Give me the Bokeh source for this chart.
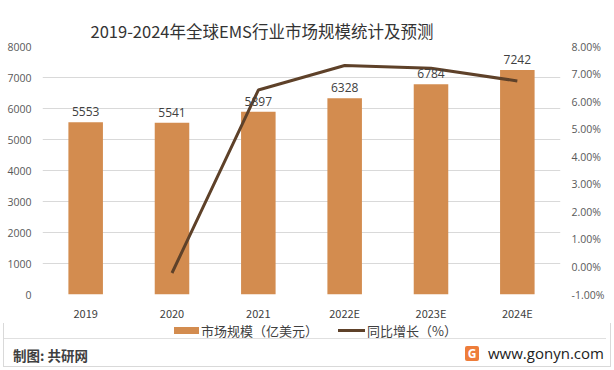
from bokeh.plotting import figure
from bokeh.layouts import column
from bokeh.models import (ColumnDataSource, Range1d, LinearAxis, FixedTicker, NumeralTickFormatter,
                          LabelSet, FactorRange, Div)
from bokeh.core.properties import value
from bokeh.embed import file_html
from bokeh.resources import INLINE

categories = ["2019", "2020", "2021", "2022E", "2023E", "2024E"]
market_size = [5553, 5541, 5897, 6328, 6784, 7242]
growth_pct = [float("nan"), -0.0022, 0.0642, 0.0731, 0.0721, 0.0675]
left_ticks = [0, 1000, 2000, 3000, 4000, 5000, 6000, 7000, 8000]
right_ticks = [-0.01, 0.0, 0.01, 0.02, 0.03, 0.04, 0.05, 0.06, 0.07, 0.08]

title_text = "2019-2024年全球EMS行业市场规模统计及预测"
legend_bar = "市场规模（亿美元）"
legend_line = "同比增长（%）"
footer_left = "制图: 共研网"
footer_right = "www.gonyn.com"
footer_logo = "G"

BAR = "#D38C4F"
LINE = "#5E4129"
CJK = "Noto Sans CJK SC"

W = 614
H_MAIN = 323
H_FOOT = 47

src = ColumnDataSource(dict(cat=categories, size=market_size, growth=growth_pct,
                            lbl=[str(v) for v in market_size]))

p = figure(width=W, height=H_MAIN, x_range=FactorRange(*categories, range_padding=0),
           y_range=Range1d(0, 8000), output_backend="svg", toolbar_location=None,
           min_border_left=42, min_border_right=54, min_border_top=46, min_border_bottom=25)
p.outline_line_color = None
p.extra_y_ranges = {"pct": Range1d(-0.01, 0.08)}

bars = p.vbar(x="cat", top="size", width=0.4, source=src, color=BAR, line_color=None)
line = p.line(x="cat", y="growth", source=src, y_range_name="pct", line_color=LINE, line_width=3)

p.add_layout(LabelSet(x="cat", y="size", text="lbl", source=src, text_align="center",
                      text_baseline="bottom", y_offset=6, text_font_size="12px",
                      text_color="#404040", text_font=value("Open Sans")))

p.title.text = title_text
p.title.align = "left"
p.title.offset = 48
p.title.standoff = 8
p.title.text_font = CJK
p.title.text_font_size = "16.5px"
p.title.text_font_style = "normal"
p.title.text_color = "#333333"

p.yaxis.ticker = FixedTicker(ticks=left_ticks)
right = LinearAxis(y_range_name="pct", ticker=FixedTicker(ticks=right_ticks),
                   formatter=NumeralTickFormatter(format="0.00%"))
p.add_layout(right, "right")
for ax in [p.yaxis[0], right]:
    ax.axis_line_color = None
    ax.major_tick_line_color = None
    ax.minor_tick_line_color = None
    ax.major_label_text_color = "#595959"
    ax.major_label_text_font_size = "10.5px"
    ax.major_label_text_font = "Open Sans"
    ax.major_label_standoff = 5
p.xaxis.axis_line_color = None
p.xaxis.major_tick_line_color = None
p.xaxis.major_label_text_color = "#404040"
p.xaxis.major_label_text_font_size = "11px"
p.xaxis.major_label_text_font = CJK
p.xaxis.major_label_standoff = 4
p.xgrid.grid_line_color = None
p.ygrid.grid_line_color = "#D9D9D9"
p.ygrid.ticker = FixedTicker(ticks=left_ticks)

txt = "position:absolute;white-space:nowrap;line-height:16px;"
footer_html = (
    f'<div style="position:relative;width:{W}px;height:{H_FOOT}px;">'
    f'<div style="position:absolute;left:174px;top:4px;width:25px;height:7px;background:{BAR};"></div>'
    f'<div style="{txt}left:201px;top:0px;font-family:\'{CJK}\';font-size:13px;color:#404040;">{legend_bar}</div>'
    f'<div style="position:absolute;left:338px;top:6px;width:27px;height:3px;background:{LINE};"></div>'
    f'<div style="{txt}left:367px;top:0px;font-family:\'{CJK}\';font-size:13px;color:#404040;">{legend_line}</div>'
    '<div style="position:absolute;left:4px;top:15px;width:602px;height:1px;background:#E0E0E0;"></div>'
    f'<div style="{txt}left:13px;top:24px;font-family:\'{CJK}\';font-size:13.5px;font-weight:bold;color:#404040;">{footer_left}</div>'
    f'<div style="position:absolute;left:465px;top:23px;width:14px;height:15px;line-height:15px;background:#EE7D3A;'
    f'color:white;text-align:center;font-family:\'Open Sans\';font-weight:bold;font-size:12px;border-radius:2px;">{footer_logo}</div>'
    f'<div style="{txt}left:488px;top:22px;font-family:\'Open Sans\';font-size:15px;color:#222222;">{footer_right}</div>'
    '</div>'
)
footer = Div(text=footer_html, width=W, height=H_FOOT, margin=0)

layout = column(p, footer, spacing=0,
                styles={"outline": "1px solid #D9D9D9", "outline-offset": "-4px"})
open("out.html", "w").write(file_html(layout, INLINE))
